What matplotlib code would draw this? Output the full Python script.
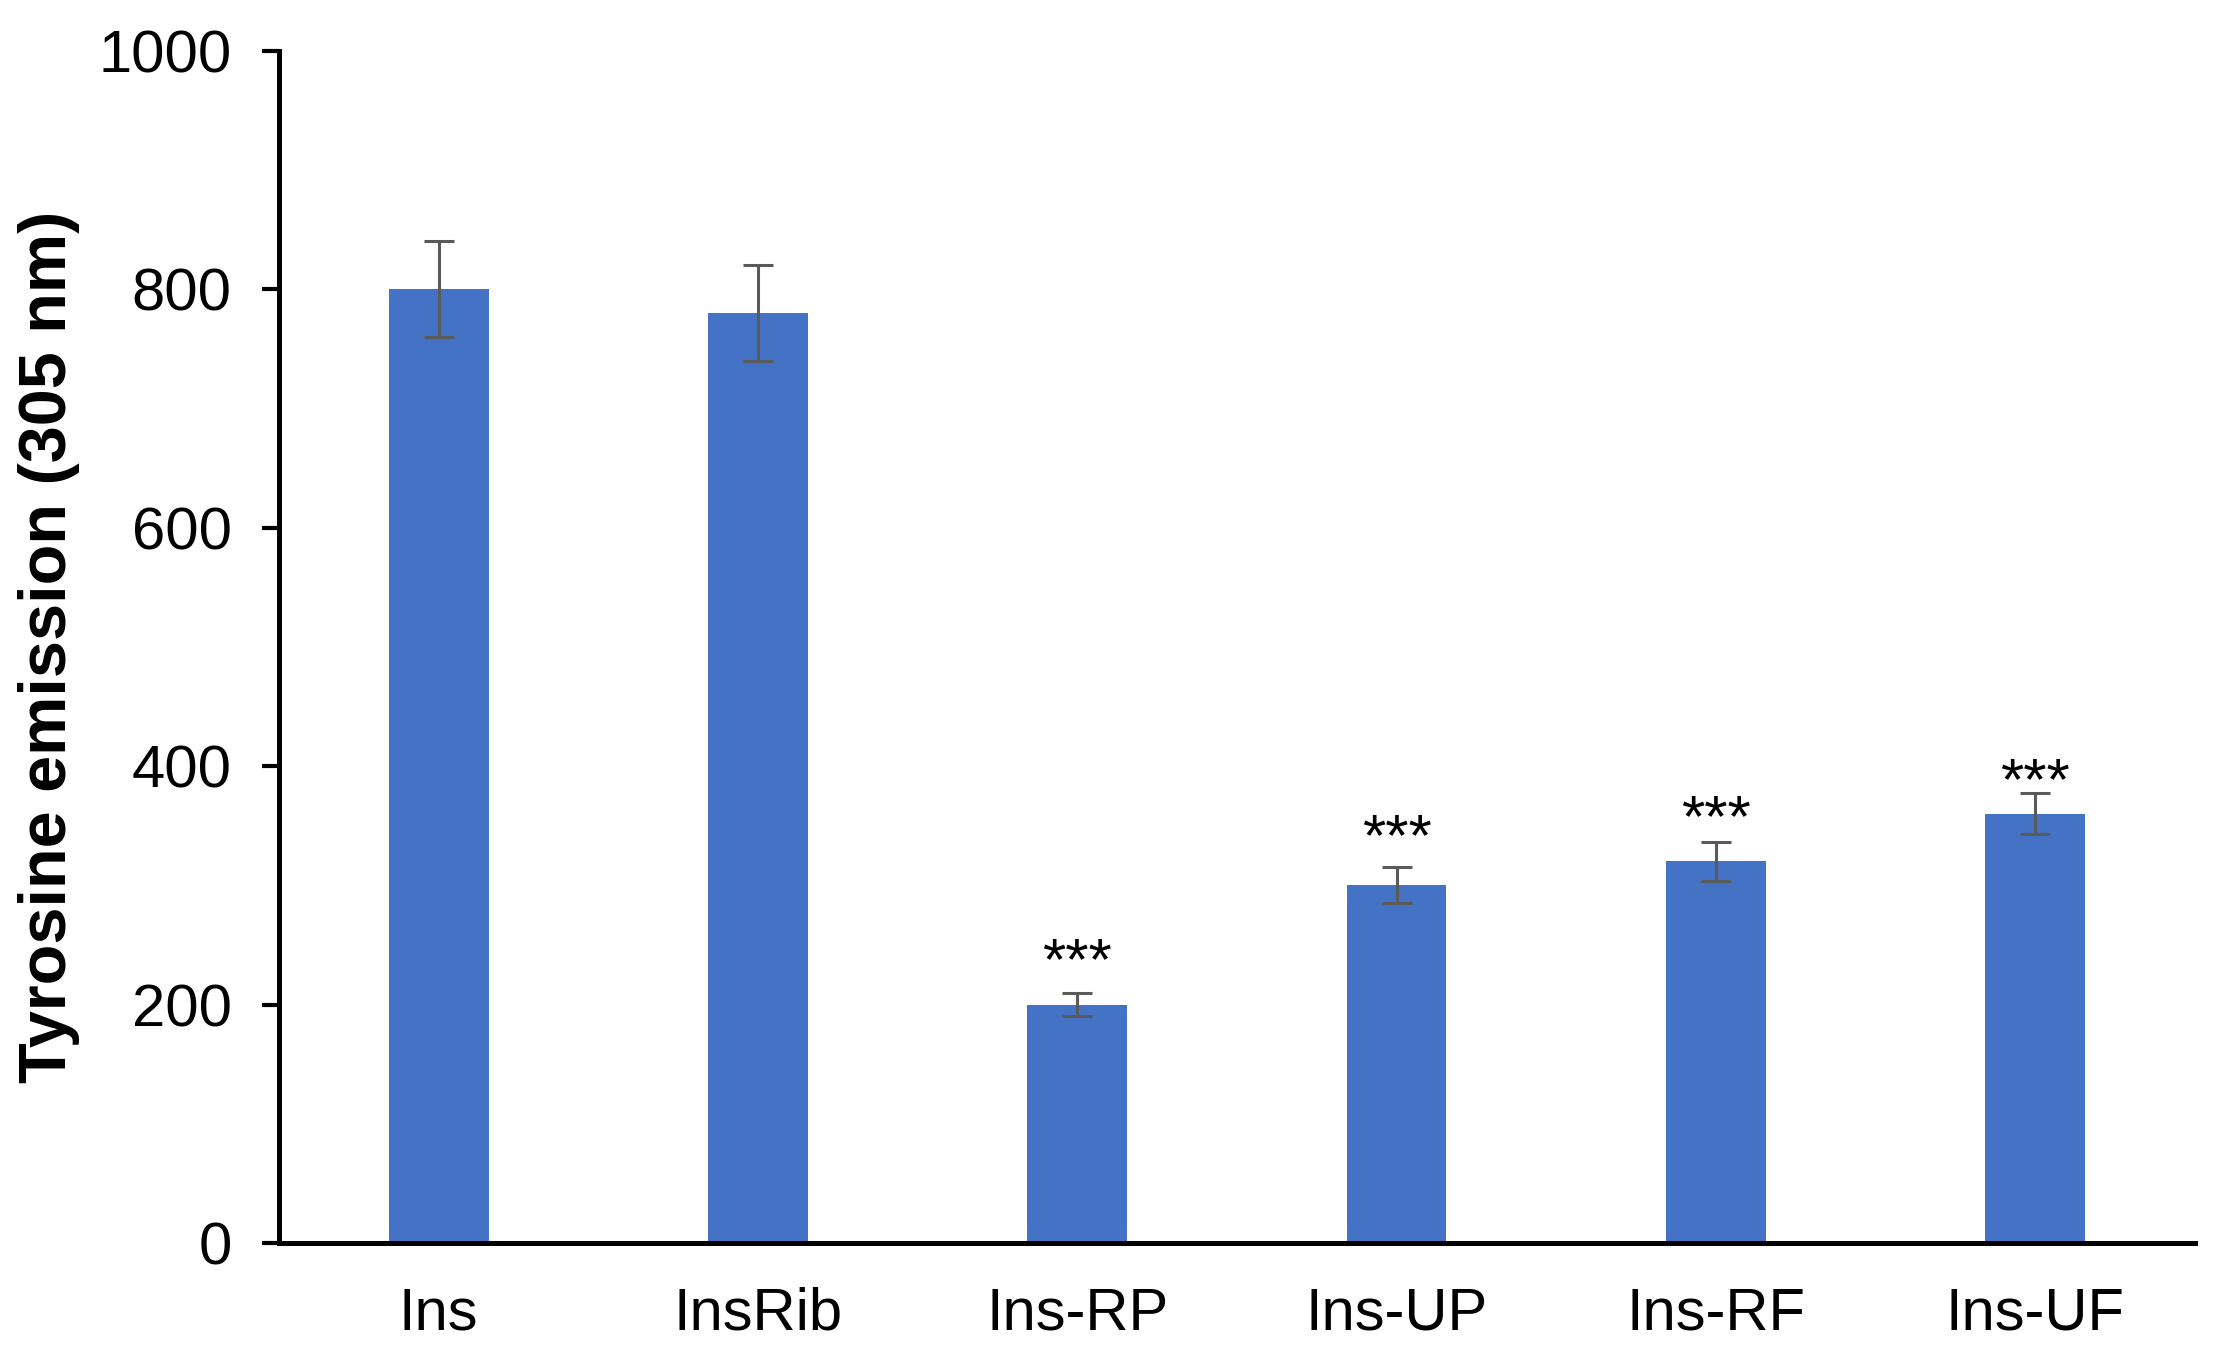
import numpy as np
import matplotlib
matplotlib.use('Agg')
import matplotlib.pyplot as plt

plt.rcParams['font.family'] = ['Liberation Sans', 'DejaVu Sans']

samples = ['Ins', 'InsRib', 'Ins-RP', 'Ins-UP', 'Ins-RF', 'Ins-UF']
emission = [800, 780, 200, 300, 320, 360]
emission_err = [40, 40, 10, 15, 16, 17]
# significance marks (only on the treated samples)
star_samples = ['Ins-RP', 'Ins-UP', 'Ins-RF', 'Ins-UF']
star_y = [249, 353, 369, 400]
star_text = '***'


def plot_emission():
    fig = plt.figure(figsize=(22.17, 13.58), dpi=100)
    ax = fig.add_axes([0.1258, 0.0847, 0.8642, 0.878])

    x = np.arange(len(samples))
    ax.bar(x, emission, width=0.313, color='#4472C4', zorder=2)
    ax.errorbar(x, emission, yerr=emission_err, fmt='none', ecolor='#5a5a5a',
                elinewidth=2.2, capsize=11, capthick=2.2, zorder=3)

    for name, y in zip(star_samples, star_y):
        ax.annotate(star_text, xy=(samples.index(name), y), xytext=(0, -24),
                    textcoords='offset points', ha='center', va='baseline',
                    fontsize=43, color='black')

    ax.set_xlim(-0.5, 5.5)
    ax.set_ylim(0, 1000)
    ax.set_yticks(np.arange(0, 1001, 200))
    ax.set_xticks(x)
    ax.set_xticklabels(samples)

    for side in ['top', 'right']:
        ax.spines[side].set_visible(False)
    for side in ['left', 'bottom']:
        ax.spines[side].set_linewidth(3.6)
        ax.spines[side].set_color('black')

    ax.tick_params(axis='y', direction='out', length=12, width=3,
                   labelsize=43, pad=22)
    ax.tick_params(axis='x', length=0, labelsize=43, pad=31)

    ax.set_ylabel('Tyrosine emission (305 nm)', fontsize=48,
                  fontweight='bold')
    ax.yaxis.set_label_coords(-0.104, 0.5)

    fig.savefig('out.png', dpi=100)


plot_emission()
